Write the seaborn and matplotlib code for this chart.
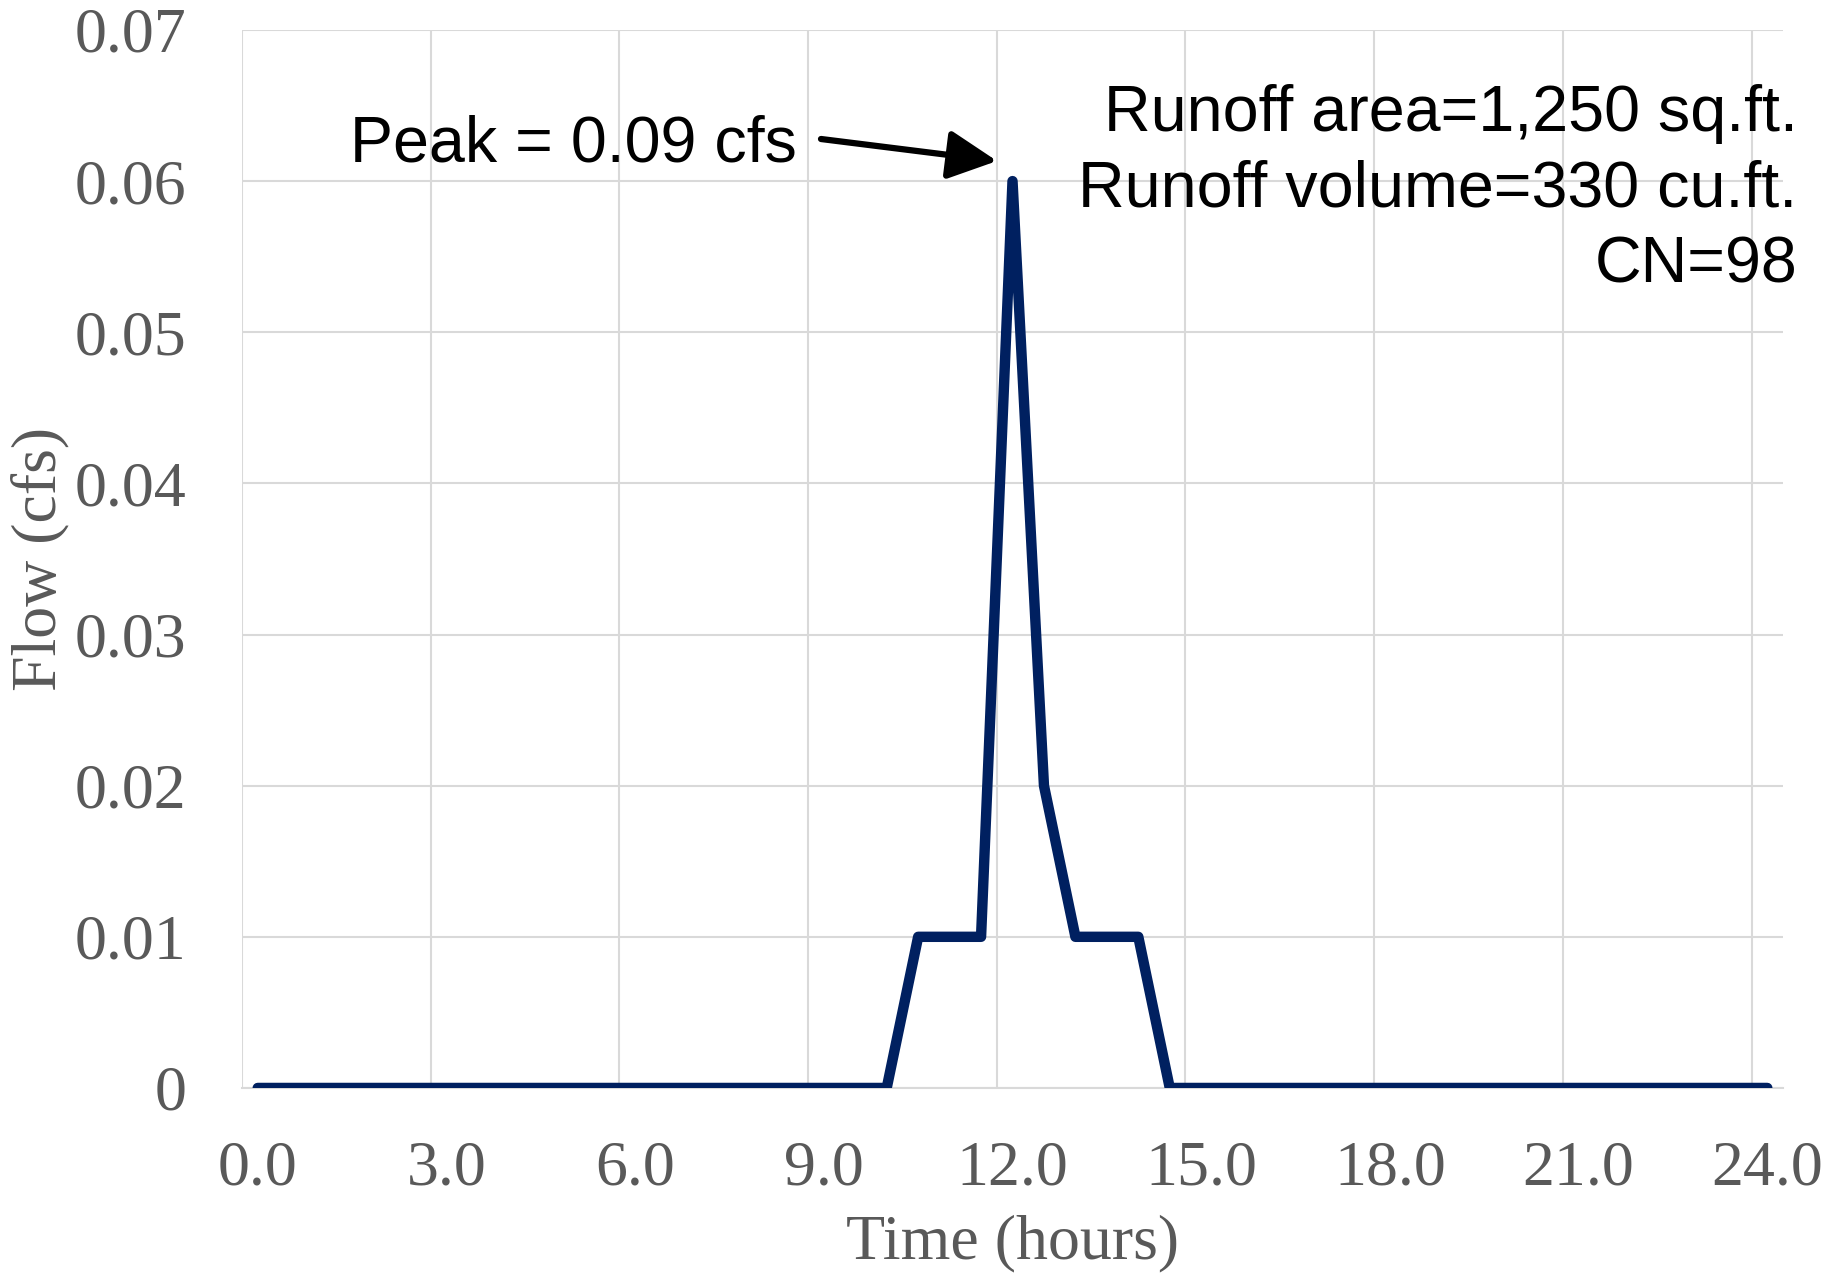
import matplotlib
matplotlib.use("Agg")
import matplotlib.pyplot as plt
import seaborn as sns
import pandas as pd

# half-hour time steps (hours) and runoff flow (cfs)
time_hours = [0.0, 0.5, 1.0, 1.5, 2.0, 2.5, 3.0, 3.5, 4.0, 4.5,
              5.0, 5.5, 6.0, 6.5, 7.0, 7.5, 8.0, 8.5, 9.0, 9.5,
              10.0, 10.5, 11.0, 11.5, 12.0, 12.5, 13.0, 13.5, 14.0, 14.5,
              15.0, 15.5, 16.0, 16.5, 17.0, 17.5, 18.0, 18.5, 19.0, 19.5,
              20.0, 20.5, 21.0, 21.5, 22.0, 22.5, 23.0, 23.5, 24.0]
flow_cfs = [0, 0, 0, 0, 0, 0, 0, 0, 0, 0,
            0, 0, 0, 0, 0, 0, 0, 0, 0, 0,
            0, 0.01, 0.01, 0.01, 0.06, 0.02, 0.01, 0.01, 0.01, 0,
            0, 0, 0, 0, 0, 0, 0, 0, 0, 0,
            0, 0, 0, 0, 0, 0, 0, 0, 0]

x_ticks = [0, 3, 6, 9, 12, 15, 18, 21, 24]
x_ticklabels = ['0.0', '3.0', '6.0', '9.0', '12.0', '15.0', '18.0', '21.0', '24.0']
y_ticks = [0, 0.01, 0.02, 0.03, 0.04, 0.05, 0.06, 0.07]
y_ticklabels = ['0', '0.01', '0.02', '0.03', '0.04', '0.05', '0.06', '0.07']

info_lines = ['Runoff area=1,250 sq.ft.', 'Runoff volume=330 cu.ft.', 'CN=98']
peak_label = 'Peak = 0.09 cfs'


def main():
    sns.set_theme(style='white')
    serif = ['Liberation Serif', 'DejaVu Serif']
    sans = ['Liberation Sans', 'DejaVu Sans']
    grey = '#595959'
    grid = '#d9d9d9'

    df = pd.DataFrame({'time': time_hours, 'flow': flow_cfs})

    fig = plt.figure(figsize=(18.25, 12.75), dpi=100)
    ax = fig.add_axes([0.1326, 0.1467, 0.977 - 0.1326, 0.9765 - 0.1467])

    sns.lineplot(data=df, x='time', y='flow', ax=ax, color='#002060',
                 linewidth=7.5, solid_joinstyle='round', solid_capstyle='round',
                 zorder=3)

    # excel-style category axis: gridlines sit between categories
    ax.set_xlim(-0.25, 24.25)
    ax.set_ylim(0, 0.07)
    ax.set_xticks(x_ticks)
    ax.set_xticklabels(x_ticklabels)
    ax.set_xticks([t - 0.25 for t in x_ticks], minor=True)
    ax.set_yticks(y_ticks)
    ax.set_yticklabels(y_ticklabels)

    ax.grid(False)
    ax.grid(True, which='minor', axis='x', color=grid, linewidth=1.5)
    ax.grid(True, which='major', axis='y', color=grid, linewidth=1.5)
    ax.set_axisbelow(True)

    for side in ['top', 'right', 'left']:
        ax.spines[side].set_visible(False)
    ax.spines['bottom'].set_color(grid)
    ax.spines['bottom'].set_linewidth(1.5)

    ax.tick_params(which='both', length=0)
    ax.tick_params(axis='x', pad=38)
    ax.tick_params(axis='y', pad=40)
    for lab in ax.get_xticklabels() + ax.get_yticklabels():
        lab.set_family(serif)
        lab.set_fontsize(46)
        lab.set_color(grey)

    ax.set_xlabel('Time (hours)', family=serif, fontsize=46, color=grey, labelpad=11)
    ax.set_ylabel('Flow (cfs)', family=serif, fontsize=46, color=grey, labelpad=4)

    fig.text(797 / 1825, 1 - 161 / 1275, peak_label, ha='right', va='baseline',
             family=sans, fontsize=46.5, color='black')
    ax.annotate('', xy=(997 / 1825, 1 - 161 / 1275), xycoords='figure fraction',
                xytext=(821 / 1825, 1 - 139 / 1275), textcoords='figure fraction',
                arrowprops=dict(arrowstyle='-|>,head_length=1.2,head_width=0.6',
                                mutation_scale=25, color='black', lw=4.5,
                                shrinkA=0, shrinkB=0))

    fig.text(0.985, 1 - 84 / 1275, '\n'.join(info_lines), ha='right', va='top',
             family=sans, fontsize=46.5, color='black', linespacing=1.34)

    fig.savefig('out.png', dpi=100)
    plt.close(fig)


if __name__ == '__main__':
    main()
